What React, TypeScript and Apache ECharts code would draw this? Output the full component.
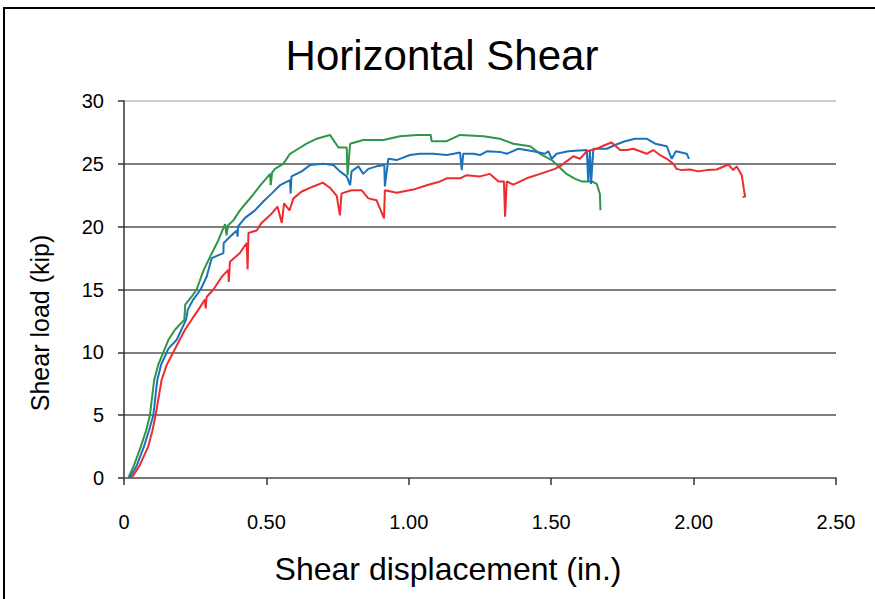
import React, { useEffect, useRef } from "react";
import * as echarts from "echarts";

const titleText = "Horizontal Shear";
const xAxisTitle = "Shear displacement (in.)";
const yAxisTitle = "Shear load (kip)";
const xTicks = [0, 0.5, 1.0, 1.5, 2.0, 2.5];
const yTicks = [0, 5, 10, 15, 20, 25, 30];

const greenSeries: [number, number][] = [
  [0.015, 0], [0.035, 1.0], [0.059, 2.5], [0.078, 3.8], [0.091, 5], [0.106, 7.8], [0.12, 9],
  [0.138, 10], [0.156, 11], [0.179, 11.8], [0.212, 12.6], [0.215, 13.8], [0.243, 14.6],
  [0.255, 15], [0.279, 16.5], [0.302, 17.6], [0.331, 18.9], [0.351, 20], [0.355, 20.2],
  [0.36, 19.3], [0.365, 20.1], [0.384, 20.5], [0.407, 21.3], [0.448, 22.4], [0.483, 23.4],
  [0.513, 24.2], [0.515, 23.3], [0.52, 24.3], [0.53, 24.6], [0.559, 25], [0.583, 25.8],
  [0.612, 26.2], [0.641, 26.6], [0.677, 27.0], [0.723, 27.3], [0.753, 26.3], [0.782, 26.3],
  [0.785, 24.1], [0.794, 26.6], [0.84, 26.9], [0.911, 26.9], [0.969, 27.2], [1.028, 27.3],
  [1.077, 27.3], [1.08, 26.8], [1.133, 26.8], [1.18, 27.3], [1.262, 27.2], [1.32, 27.0],
  [1.367, 26.6], [1.426, 26.4], [1.461, 25.8], [1.502, 25.3], [1.525, 24.8], [1.554, 24.2],
  [1.584, 23.8], [1.607, 23.6], [1.642, 23.6], [1.66, 23.4], [1.671, 22.6], [1.673, 21.3],
];

const blueSeries: [number, number][] = [
  [0.02, 0], [0.045, 1.0], [0.07, 2.5], [0.088, 3.8], [0.103, 5], [0.117, 7.8], [0.13, 9],
  [0.15, 10], [0.156, 10.3], [0.185, 11], [0.218, 12.6], [0.224, 13.4], [0.243, 14.2],
  [0.269, 15], [0.29, 16], [0.308, 17.5], [0.349, 17.9], [0.35, 18.7], [0.372, 19.2],
  [0.396, 19.7], [0.399, 19.2], [0.4, 20.0], [0.425, 20.7], [0.46, 21.3], [0.489, 22.0],
  [0.519, 22.65], [0.548, 23.3], [0.583, 23.7], [0.585, 22.65], [0.588, 24.0], [0.624, 24.4],
  [0.653, 24.9], [0.7, 25.0], [0.735, 24.9], [0.758, 24.4], [0.782, 24.0], [0.794, 23.3],
  [0.799, 24.4], [0.823, 24.8], [0.84, 24.2], [0.858, 24.6], [0.887, 24.8], [0.914, 24.9],
  [0.916, 23.2], [0.928, 25.4], [0.957, 25.3], [1.004, 25.7], [1.039, 25.8], [1.086, 25.8],
  [1.133, 25.7], [1.157, 25.8], [1.18, 25.9], [1.186, 24.5], [1.191, 25.8], [1.227, 25.8],
  [1.25, 25.7], [1.274, 26.0], [1.32, 25.95], [1.344, 25.8], [1.385, 26.2], [1.437, 26.0],
  [1.478, 25.8], [1.49, 26.0], [1.502, 25.4], [1.519, 25.8], [1.56, 26.0], [1.625, 26.1],
  [1.63, 23.6], [1.636, 26.1], [1.64, 23.4], [1.648, 26.2], [1.695, 26.2], [1.724, 26.5],
  [1.759, 26.8], [1.794, 27.0], [1.835, 27.0], [1.865, 26.6], [1.906, 26.4], [1.923, 25.4],
  [1.938, 26.0], [1.976, 25.8], [1.984, 25.4],
];

const redSeries: [number, number][] = [
  [0.027, 0], [0.055, 1.0], [0.085, 2.5], [0.1, 3.8], [0.111, 5], [0.132, 7.8], [0.15, 9],
  [0.173, 10], [0.214, 11.8], [0.267, 13.6], [0.284, 14.2], [0.287, 13.5], [0.29, 14.4],
  [0.314, 15], [0.343, 16], [0.366, 16.55], [0.368, 15.6], [0.372, 17.2], [0.407, 17.9],
  [0.431, 18.7], [0.434, 16.6], [0.437, 19.5], [0.466, 19.7], [0.483, 20.3], [0.519, 21.05],
  [0.539, 21.6], [0.554, 20.3], [0.562, 21.85], [0.581, 21.3], [0.595, 22.25], [0.624, 22.8],
  [0.665, 23.2], [0.698, 23.5], [0.723, 23.1], [0.747, 22.45], [0.758, 20.9], [0.764, 22.65],
  [0.799, 22.9], [0.834, 22.9], [0.858, 22.25], [0.887, 22.1], [0.913, 20.65], [0.916, 22.9],
  [0.957, 22.7], [1.016, 22.95], [1.063, 23.3], [1.11, 23.6], [1.133, 23.85], [1.18, 23.85],
  [1.203, 24.1], [1.25, 24.0], [1.285, 24.2], [1.315, 23.6], [1.334, 23.6], [1.338, 20.8],
  [1.344, 23.6], [1.367, 23.35], [1.414, 23.85], [1.461, 24.2], [1.513, 24.6], [1.537, 24.9],
  [1.554, 25.2], [1.578, 25.6], [1.601, 25.4], [1.625, 26.0], [1.66, 26.2], [1.689, 26.5],
  [1.712, 26.7], [1.742, 26.1], [1.765, 26.1], [1.788, 26.2], [1.812, 26.0], [1.835, 25.8],
  [1.858, 26.1], [1.882, 25.7], [1.906, 25.4], [1.929, 25.0], [1.94, 24.6], [1.958, 24.5],
  [1.987, 24.55], [2.016, 24.4], [2.046, 24.5], [2.081, 24.55], [2.122, 24.95], [2.139, 24.5],
  [2.151, 24.8], [2.169, 24.1], [2.177, 22.9], [2.181, 22.4], [2.172, 22.35],
];

const FONT = "'Liberation Sans', Arial, Helvetica, sans-serif";

export default function App() {
  const ref = useRef<HTMLDivElement>(null);
  useEffect(() => {
    if (!ref.current) return;
    const chart = echarts.init(ref.current, undefined, { renderer: "svg" });
    const mkLine = (data: [number, number][], color: string) => ({
      type: "line",
      data,
      showSymbol: false,
      symbol: "none",
      lineStyle: { color, width: 2 },
      z: 3,
    });
    chart.setOption({
      animation: false,
      backgroundColor: "#ffffff",
      grid: { left: 124, right: 39, top: 101, bottom: 121, containLabel: false },
      graphic: [
        {
          type: "rect",
          shape: { x: 4, y: 8, width: 900, height: 700 },
          style: { fill: "none", stroke: "#000", lineWidth: 2 },
          silent: true,
        },
        {
          type: "text",
          x: 442,
          y: 55,
          style: {
            text: titleText,
            font: `42px ${FONT}`,
            fill: "#000",
            textAlign: "center",
            textVerticalAlign: "middle",
          },
        },
        {
          type: "text",
          x: 448,
          y: 569,
          style: {
            text: xAxisTitle,
            font: `32px ${FONT}`,
            fill: "#000",
            textAlign: "center",
            textVerticalAlign: "middle",
          },
        },
        {
          type: "text",
          x: 40,
          y: 323,
          rotation: Math.PI / 2,
          style: {
            text: yAxisTitle,
            font: `25px ${FONT}`,
            fill: "#000",
            textAlign: "center",
            textVerticalAlign: "middle",
          },
        },
      ],
      xAxis: {
        type: "value",
        min: xTicks[0],
        max: xTicks[xTicks.length - 1],
        interval: 0.5,
        axisLine: { show: true, onZero: false, lineStyle: { color: "#777", width: 2 } },
        axisTick: { show: true, length: 7, lineStyle: { color: "#333", width: 1.5 } },
        splitLine: { show: false },
        axisLabel: {
          margin: 34,
          fontSize: 20,
          fontFamily: FONT,
          color: "#000",
          formatter: (v: number) => (v === 0 ? "0" : v.toFixed(2)),
        },
      },
      yAxis: {
        type: "value",
        min: yTicks[0],
        max: yTicks[yTicks.length - 1],
        interval: 5,
        axisLine: { show: true, lineStyle: { color: "#333", width: 1.5 } },
        axisTick: { show: true, length: 6, lineStyle: { color: "#333", width: 1.5 } },
        splitLine: {
          show: true,
          lineStyle: {
            color: ["#555", "#555", "#555", "#555", "#555", "#555", "#bbb"],
            width: 1.5,
          },
        },
        axisLabel: { margin: 20, fontSize: 20, fontFamily: FONT, color: "#000" },
      },
      series: [
        mkLine(greenSeries, "#2f9647"),
        mkLine(blueSeries, "#1a72bb"),
        mkLine(redSeries, "#ee2b2f"),
      ],
    });
    return () => chart.dispose();
  }, []);
  return <div ref={ref} style={{ width: 875, height: 599, position: "absolute", left: 0, top: 0 }} />;
}
